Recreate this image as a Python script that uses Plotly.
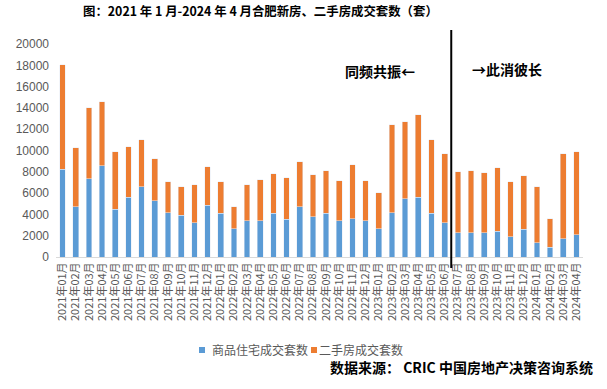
import plotly.graph_objects as go

months = [f"{y}年{m:02d}月" for y in (2021, 2022, 2023, 2024) for m in range(1, 13)][:40]

new_home = [8250, 4720, 7340, 8590, 4470, 5590, 6590, 5280, 4160, 3910, 3220, 4840,
            4090, 2660, 3410, 3410, 4090, 3530, 4720, 3780, 4090, 3410, 3590, 3410,
            2660, 4160, 5470, 5590, 4090, 3220, 2280, 2280, 2280, 2410, 1910, 2590,
            1340, 910, 1720, 2090]
second_hand = [9780, 5530, 6660, 5970, 5410, 4750, 4410, 3940, 2900, 2680, 3560, 3630,
               2970, 2060, 3370, 3840, 3720, 3910, 4220, 3940, 4000, 3750, 5070, 3750,
               3370, 8240, 7220, 7750, 6910, 6470, 5720, 5810, 5630, 5970, 5150, 5040,
               5250, 2680, 7970, 7790]

series_names = ["商品住宅成交套数", "二手房成交套数"]
series_colors = ["#5B9BD5", "#ED7D31"]

y_ticks = [0, 2000, 4000, 6000, 8000, 10000, 12000, 14000, 16000, 18000, 20000]

CJK = "Noto Sans CJK SC, Microsoft YaHei, sans-serif"

W, H = 607, 389
L, R, T, B = 56, 24, 44, 132
PW, PH = W - L - R, H - T - B


def px(x):
    return (x - L) / PW


def py(y):
    return (H - B - y) / PH


fig = go.Figure()
fig.add_bar(x=months, y=new_home, name=series_names[0], marker_color=series_colors[0])
fig.add_bar(x=months, y=second_hand, name=series_names[1], marker_color=series_colors[1])

fig.update_layout(
    width=W, height=H,
    barmode="stack", bargap=0.57,
    plot_bgcolor="white", paper_bgcolor="white",
    margin=dict(l=L, r=R, t=T, b=B),
    font=dict(family=CJK, color="#595959", size=11),
    showlegend=False,
    xaxis=dict(type="category", tickangle=-90, showline=True, linecolor="#D9D9D9",
               linewidth=1, ticks="", showgrid=False, tickfont=dict(size=11),
               automargin=False),
    yaxis=dict(range=[0, 20000], tickvals=y_ticks, ticktext=[str(v) for v in y_ticks],
               showgrid=False, zeroline=False, automargin=False,
               showline=False, ticks="", tickfont=dict(size=12, family="Liberation Sans, Arial"),
               ticklabelstandoff=6),
    title=dict(text="<b>图：2021 年 1 月-2024 年 4 月合肥新房、二手房成交套数（套）</b>",
               xref="container", x=83 / W, xanchor="left",
               yref="container", y=1 - 11.5 / H, yanchor="middle",
               font=dict(size=12.4, color="black", family=CJK)),
)

# divider line between 2023-06 and 2023-07
fig.add_shape(type="line", xref="x", yref="paper", x0=29.5, x1=29.5, y0=py(268), y1=py(30),
              line=dict(color="black", width=2))

fig.add_annotation(text="<b>同频共振←</b>", xref="paper", yref="paper",
                   x=px(417), xanchor="right", y=py(59), showarrow=False,
                   font=dict(size=14, color="black", family=CJK))
fig.add_annotation(text="<b>→此消彼长</b>", xref="paper", yref="paper",
                   x=px(470), xanchor="left", y=py(57), showarrow=False,
                   font=dict(size=14, color="black", family=CJK))
fig.add_annotation(text="<b>数据来源： CRIC 中国房地产决策咨询系统</b>", xref="paper", yref="paper",
                   x=px(595), xanchor="right", y=py(378.5), showarrow=False,
                   font=dict(size=14, color="black", family=CJK))

# legend (compact, as in the reference)
legend_pos = [(199, 210), (311, 317)]
for name, color, (sx, tx) in zip(series_names, series_colors, legend_pos):
    fig.add_shape(type="rect", xref="paper", yref="paper",
                  x0=px(sx), x1=px(sx + 6), y0=py(353), y1=py(347),
                  fillcolor=color, line=dict(width=0))
    fig.add_annotation(text=name, xref="paper", yref="paper", x=px(tx), xanchor="left",
                       y=py(350), yanchor="middle", showarrow=False,
                       font=dict(size=12, color="#595959", family=CJK))

fig.write_html("out.html", config={"displayModeBar": False},
               post_script="document.body.style.margin='0';")
